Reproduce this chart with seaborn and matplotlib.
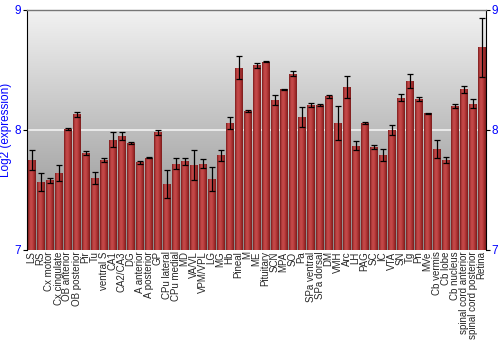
import numpy as np
import pandas as pd
import matplotlib
matplotlib.use("Agg")
import matplotlib.pyplot as plt
import seaborn as sns
from matplotlib.colors import LinearSegmentedColormap

regions = ["LS", "RS", "Cx motor", "Cx cingulate", "OB anterior", "OB posterior", "Pir", "Tu",
           "ventral S", "CA1", "CA2/CA3", "DG", "A anterior", "A posterior", "GP", "CPu lateral",
           "CPu medial", "MD", "VA/VL", "VPM/VPL", "LG", "MG", "Hb", "Pineal", "M", "ME",
           "Pituitary", "SCN", "MPA", "SO", "Pa", "SPa ventral", "SPa dorsal", "DM", "VMH", "Arc",
           "LH", "PAG", "SC", "IC", "VTA", "SN", "Tg", "Pn", "MVe", "Cb vermis", "Cb lobe",
           "Cb nucleus", "spinal cord anterior", "spinal cord posterior", "Retina"]
expression = [7.75, 7.57, 7.58, 7.64, 8.01, 8.13, 7.81, 7.60,
              7.75, 7.92, 7.95, 7.89, 7.73, 7.77, 7.98, 7.55,
              7.72, 7.74, 7.71, 7.72, 7.59, 7.79, 8.06, 8.52, 8.16, 8.54,
              8.57, 8.25, 8.34, 8.47, 8.11, 8.21, 8.21, 8.28, 8.06, 8.36,
              7.87, 8.06, 7.86, 7.79, 8.00, 8.27, 8.41, 8.26, 8.14, 7.84, 7.75,
              8.20, 8.34, 8.22, 8.69]
error = [0.083, 0.075, 0.02, 0.067, 0.01, 0.02, 0.015, 0.05,
         0.02, 0.06, 0.03, 0.01, 0.015, 0.005, 0.02, 0.12,
         0.043, 0.03, 0.125, 0.035, 0.10, 0.045, 0.05, 0.095, 0.01, 0.02,
         0.005, 0.04, 0.005, 0.02, 0.083, 0.015, 0.01, 0.015, 0.14, 0.09,
         0.04, 0.01, 0.015, 0.05, 0.04, 0.03, 0.06, 0.015, 0.005, 0.075, 0.025,
         0.02, 0.03, 0.04, 0.245]
yticks = [7, 8, 9]

df = pd.DataFrame({"region": regions, "expression": expression, "error": error})

sns.set_style("white")
plt.rcParams["font.family"] = ["Liberation Sans", "DejaVu Sans"]

fig = plt.figure(figsize=(5, 3.5), dpi=100)
ax = fig.add_axes([27 / 500, 100 / 350, 459 / 500, 240 / 350])

# background gradient
bg = LinearSegmentedColormap.from_list("bg", ["#8a8a8a", "#f2f2f2"])
ax.imshow(np.linspace(0, 1, 256).reshape(-1, 1), cmap=bg, aspect="auto",
          extent=[0, 1, 0, 1], transform=ax.transAxes, origin="lower", zorder=0)

sns.barplot(data=df, x="region", y="expression", color="#b03030", width=0.88,
            edgecolor="#5a1a1a", linewidth=0.6, ax=ax, zorder=2)

ymin, ymax = yticks[0], yticks[-1]

# horizontal gradient on each bar
barcm = LinearSegmentedColormap.from_list(
    "bar", ["#7a1c1c", "#c04545", "#c44848", "#a83030", "#7a1c1c"])
grad = np.linspace(0, 1, 64).reshape(1, -1)
for p in ax.patches:
    x0, w = p.get_x(), p.get_width()
    top = p.get_y() + p.get_height()
    im = ax.imshow(grad, cmap=barcm, aspect="auto",
                   extent=[x0, x0 + w, ymin, top], zorder=3, origin="lower")
    im.set_clip_path(p)

ax.axhline(8, color="white", lw=1.2, alpha=0.8, zorder=1)

ax.errorbar(np.arange(len(regions)), df["expression"], yerr=df["error"], fmt="none",
            ecolor="black", elinewidth=0.9, capsize=2.2, capthick=0.9, zorder=4)

ax.set_xlim(-0.5, len(regions) - 0.5)
ax.set_ylim(ymin, ymax)
ax.set_yticks(yticks)
ax.set_yticklabels([str(t) for t in yticks])
ax.tick_params(axis="y", which="both", left=True, right=True, labelleft=True, labelright=True,
               colors="black", labelcolor="blue", labelsize=8.5, length=3, width=0.8, pad=1)
ax.tick_params(axis="x", labelrotation=90, labelsize=7, length=0, pad=1)
for lab in ax.get_xticklabels():
    lab.set_verticalalignment("top")
ax.set_xlabel("")
ax.set_ylabel("Log2 (expression)", color="blue", fontsize=8.5, labelpad=2)

for side in ["left", "right"]:
    ax.spines[side].set_color("black")
    ax.spines[side].set_linewidth(0.8)
ax.spines["top"].set_color("#777777")
ax.spines["top"].set_linewidth(1.0)
ax.spines["bottom"].set_visible(False)

fig.savefig("out.png", dpi=100)
